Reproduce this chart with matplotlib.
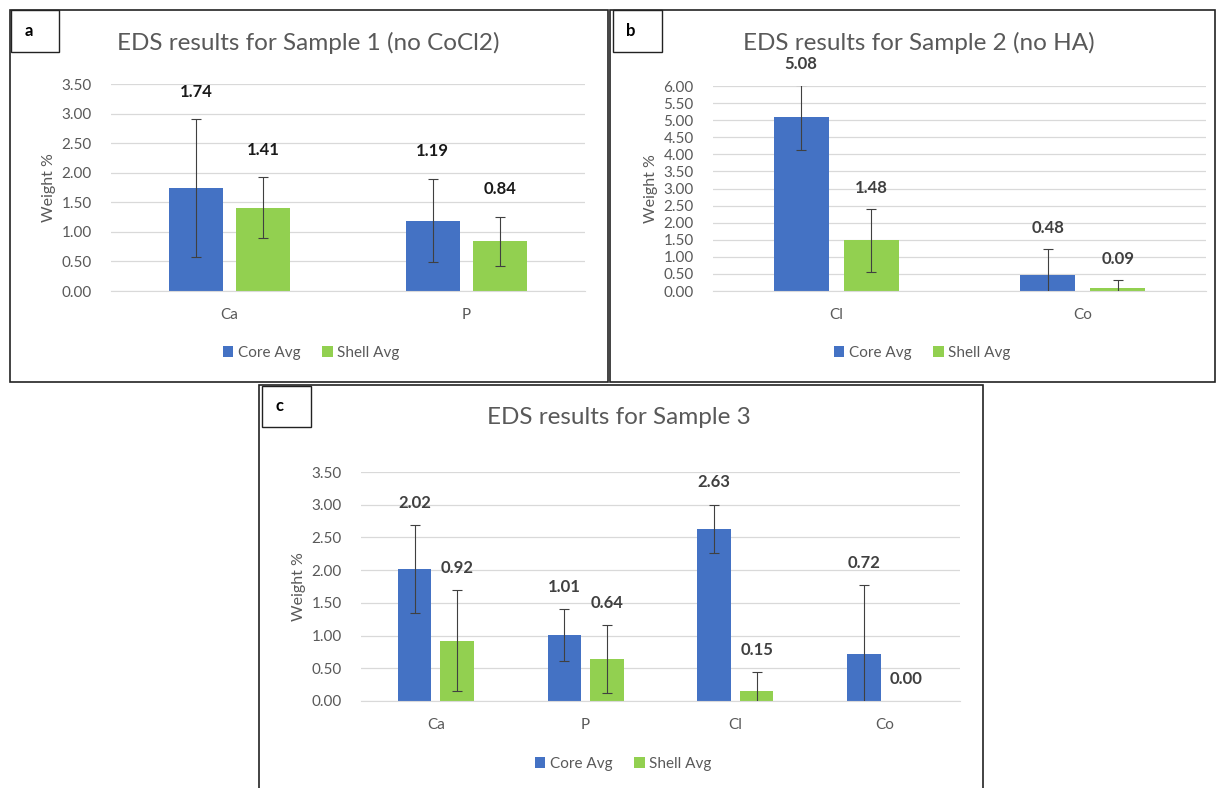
import matplotlib
matplotlib.use("Agg")
import numpy as np
from matplotlib import pyplot as plt
from matplotlib.patches import Rectangle

plt.rcParams['font.family'] = ['Lato', 'DejaVu Sans']

# ---- data ----
elements_a = ['Ca', 'P']
core_a = [1.74, 1.19]
shell_a = [1.41, 0.84]
core_err_a = [1.16, 0.70]
shell_err_a = [0.51, 0.41]

elements_b = ['Cl', 'Co']
core_b = [5.08, 0.48]
shell_b = [1.48, 0.09]
core_err_b = [0.96, 0.76]
shell_err_b = [0.93, 0.24]

elements_c = ['Ca', 'P', 'Cl', 'Co']
core_c = [2.02, 1.01, 2.63, 0.72]
shell_c = [0.92, 0.64, 0.15, 0.00]
core_err_c = [0.67, 0.40, 0.37, 1.05]
shell_err_c = [0.77, 0.52, 0.29, 0.00]

BLUE = '#4472C4'
GREEN = '#92D050'
GRAY = '#595959'

W, H = 1217, 788
fig = plt.figure(figsize=(W / 100, H / 100), dpi=100)


def box(x0, y0, x1, y1):
    # pixel box (top-left origin) -> figure fraction
    return [x0 / W, 1 - y1 / H, (x1 - x0) / W, (y1 - y0) / H]


def frame(x0, y0, x1, y1, lw=1.2):
    l, b, w, h = box(x0, y0, x1, y1)
    fig.patches.append(Rectangle((l, b), w, h, transform=fig.transFigure,
                                 fill=False, edgecolor='#222222', linewidth=lw))


def panel(letter, frame_px, tag_px, plot_px, title, title_xy, legend_xy,
          cats, core, shell, core_err, shell_err, ymax, yticks, lab_off, lab_col):
    frame(*frame_px)
    frame(*tag_px, lw=1.0)
    tx = tag_px[0] + 18
    ty = (tag_px[1] + tag_px[3]) / 2
    fig.text(tx / W, 1 - ty / H, letter, fontsize=12, fontweight='bold',
             ha='center', va='center', color='black')

    ax = fig.add_axes(box(*plot_px))
    x = np.arange(len(cats))
    w = 0.225
    off = 0.142
    ax.bar(x - off, core, w, color=BLUE, label='Core Avg', zorder=2)
    ax.bar(x + off, shell, w, color=GREEN, label='Shell Avg', zorder=2)
    ekw = dict(fmt='none', ecolor='#404040', elinewidth=0.8, capsize=3.5,
               capthick=0.8, zorder=3)
    for xs, vals, errs in [(x - off, core, core_err), (x + off, shell, shell_err)]:
        keep = np.array(errs) > 0
        ax.errorbar(xs[keep], np.array(vals)[keep], yerr=np.array(errs)[keep], **ekw)
        for xi, v, e in zip(xs, vals, errs):
            ax.annotate(f'{v:.2f}', (xi, v + e), xytext=(0, lab_off),
                        textcoords='offset points', ha='center', va='center',
                        fontsize=12, fontweight='bold', color=lab_col,
                        annotation_clip=False)

    ax.set_xlim(-0.5, len(cats) - 0.5)
    ax.set_ylim(0, ymax)
    ax.set_yticks(yticks)
    ax.set_yticklabels([f'{t:.2f}' for t in yticks])
    ax.set_xticks(x)
    ax.set_xticklabels(cats)
    ax.grid(axis='y', color='#D9D9D9', linewidth=0.9, zorder=0)
    ax.set_axisbelow(True)
    for s in ['top', 'right', 'left']:
        ax.spines[s].set_visible(False)
    ax.spines['bottom'].set_color('#D9D9D9')
    ax.tick_params(axis='y', length=0, pad=14, labelsize=11, labelcolor=GRAY)
    ax.tick_params(axis='x', length=0, pad=12, labelsize=11, labelcolor=GRAY)
    ax.set_ylabel('Weight %', fontsize=11.5, color=GRAY, labelpad=4)

    fig.text(title_xy[0] / W, 1 - title_xy[1] / H, title, fontsize=17.5,
             color=GRAY, ha='center', va='center')
    fig.legend(handles=ax.get_legend_handles_labels()[0], labels=['Core Avg', 'Shell Avg'],
               loc='center', bbox_to_anchor=(legend_xy[0] / W, 1 - legend_xy[1] / H),
               ncol=2, frameon=False, fontsize=11, labelcolor=GRAY,
               handlelength=0.7, handleheight=0.7, handletextpad=0.3, columnspacing=1.4)
    return ax


panel('a', (10, 10, 608, 382), (11, 10, 59, 52), (111, 84, 585, 291),
      'EDS results for Sample 1 (no CoCl2)', (308, 43), (311, 353),
      elements_a, core_a, shell_a, core_err_a, shell_err_a,
      3.5, np.arange(0, 3.51, 0.5), 20, '#1a1a1a')

panel('b', (610, 10, 1215, 382), (613, 10, 662, 52), (713, 86, 1206, 291),
      'EDS results for Sample 2 (no HA)', (919, 43), (922, 353),
      elements_b, core_b, shell_b, core_err_b, shell_err_b,
      6.0, np.arange(0, 6.01, 0.5), 15, '#404040')

panel('c', (259, 385, 983, 790), (262, 386, 311, 427), (361, 472, 960, 701),
      'EDS results for Sample 3', (619, 418), (623, 764),
      elements_c, core_c, shell_c, core_err_c, shell_err_c,
      3.5, np.arange(0, 3.51, 0.5), 16, '#404040')

fig.savefig('out.png', dpi=100)
